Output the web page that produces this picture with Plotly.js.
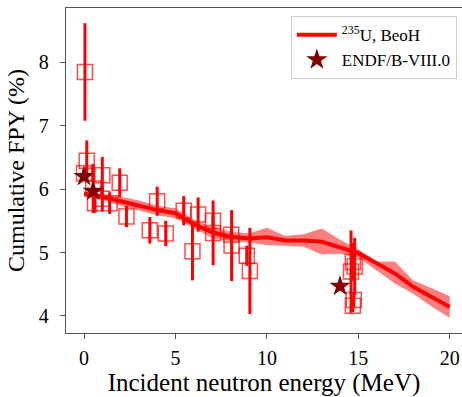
<!DOCTYPE html>
<html>
<head>
<meta charset="utf-8">
<script src="https://cdn.plot.ly/plotly-3.0.1.min.js"></script>
<style>html,body{margin:0;padding:0;background:#fff;}#chart{width:462px;height:397px;}</style>
</head>
<body>
<div id="chart"></div>
<script>
// BeoH calculation (235U)
const beohE     = [0,1,2,3,4,5,6,7,8,9,10,11,12,13,14,15,16,17,18,19,20];
const beohY     = [5.93,5.88,5.81,5.74,5.67,5.62,5.45,5.32,5.25,5.22,5.24,5.19,5.19,5.17,5.08,4.99,4.83,4.67,4.46,4.30,4.14];
const beohUpper = [5.97,5.93,5.88,5.82,5.74,5.70,5.52,5.40,5.33,5.30,5.39,5.26,5.29,5.38,5.20,5.05,4.86,4.86,4.56,4.44,4.31];
const beohLower = [5.89,5.83,5.74,5.66,5.59,5.54,5.38,5.23,5.18,5.16,5.12,5.11,5.09,4.97,4.98,4.92,4.72,4.51,4.35,4.15,3.97];

// Experimental data
const expE   = [0.05,0.15,0.0,0.5,0.6,1.0,1.0,1.4,1.95,2.32,3.6,4.0,4.47,5.45,5.93,6.24,7.05,7.06,8.05,8.07,8.9,9.07,14.6,14.7,14.8,14.75,14.7];
const expY   = [7.85,6.45,6.25,6.01,5.78,6.22,5.85,5.78,6.10,5.57,5.35,5.81,5.30,5.66,5.02,5.60,5.50,5.31,5.28,5.11,4.95,4.71,4.70,4.85,4.78,4.25,4.16];
const expErr = [0.77,0.32,0.08,0.39,0.15,0.29,0.20,0.17,0.23,0.17,0.21,0.23,0.20,0.23,0.46,0.27,0.10,0.51,0.10,0.56,0.16,0.68,0.65,0.30,0.45,0.12,0.10];

// ENDF/B-VIII.0
const endfE = [0.0, 0.5, 14.0];
const endfY = [6.20, 5.97, 4.47];

const serif = 'Liberation Serif, Times New Roman, serif';

const traces = [
  {x: beohE, y: beohUpper, mode: 'lines', line: {width: 0, color: 'rgba(255,0,0,0)'}, showlegend: false, hoverinfo: 'skip'},
  {x: beohE, y: beohLower, mode: 'lines', line: {width: 0, color: 'rgba(255,0,0,0)'}, fill: 'tonexty', fillcolor: 'rgba(255,0,0,0.5)', showlegend: false, hoverinfo: 'skip'},
  {x: beohE, y: beohY, mode: 'lines', name: '<sup>235</sup>U, BeoH', line: {color: '#ff0000', width: 4}},
  {x: expE, y: expY, mode: 'markers', showlegend: false,
   marker: {symbol: 'square-open', size: 15, color: 'rgba(255,0,0,0.7)', line: {width: 1.5, color: 'rgba(255,0,0,0.7)'}},
   error_y: {type: 'data', array: expErr, visible: true, color: '#ff0000', thickness: 3, width: 0}},
  {x: endfE, y: endfY, mode: 'markers', name: 'ENDF/B-VIII.0',
   marker: {symbol: 'star', size: 16, color: '#800000', line: {width: 0}}}
];

const layout = {
  width: 462, height: 397,
  margin: {l: 66, r: 0, t: 8, b: 64},
  paper_bgcolor: '#fff', plot_bgcolor: '#fff',
  font: {family: serif, color: '#000'},
  xaxis: {
    range: [-0.985, 20.67], tickvals: [0,5,10,15,20], ticktext: ['0','5','10','15','20'],
    showgrid: false, zeroline: false, showline: true, mirror: true, linecolor: '#555', linewidth: 1.3,
    ticks: 'outside', ticklen: 5, tickcolor: '#555', tickfont: {size: 20, family: serif}, ticklabelstandoff: 2,
    title: {text: 'Incident neutron energy (MeV)', font: {size: 25, family: serif}, standoff: 3}
  },
  yaxis: {
    range: [3.73, 8.86], tickvals: [4,5,6,7,8], ticktext: ['4','5','6','7','8'],
    showgrid: false, zeroline: false, showline: true, mirror: false, linecolor: '#555', linewidth: 1.3,
    ticks: 'outside', ticklen: 5, tickcolor: '#555', tickfont: {size: 20, family: serif}, ticklabelstandoff: 7,
    title: {text: 'Cumulative FPY (%)', font: {size: 24, family: serif}, standoff: 7}
  },
  legend: {
    x: 0.987, xanchor: 'right', y: 0.975, yanchor: 'top', traceorder: 'normal',
    bgcolor: 'rgba(255,255,255,0.8)', bordercolor: '#ccc', borderwidth: 1,
    font: {size: 17, family: serif}, tracegroupgap: 0, itemwidth: 40,
    entrywidth: 170, entrywidthmode: 'pixels'
  },
  showlegend: true
};

Plotly.newPlot('chart', traces, layout, {displayModeBar: false, staticPlot: true});
</script>
</body>
</html>
